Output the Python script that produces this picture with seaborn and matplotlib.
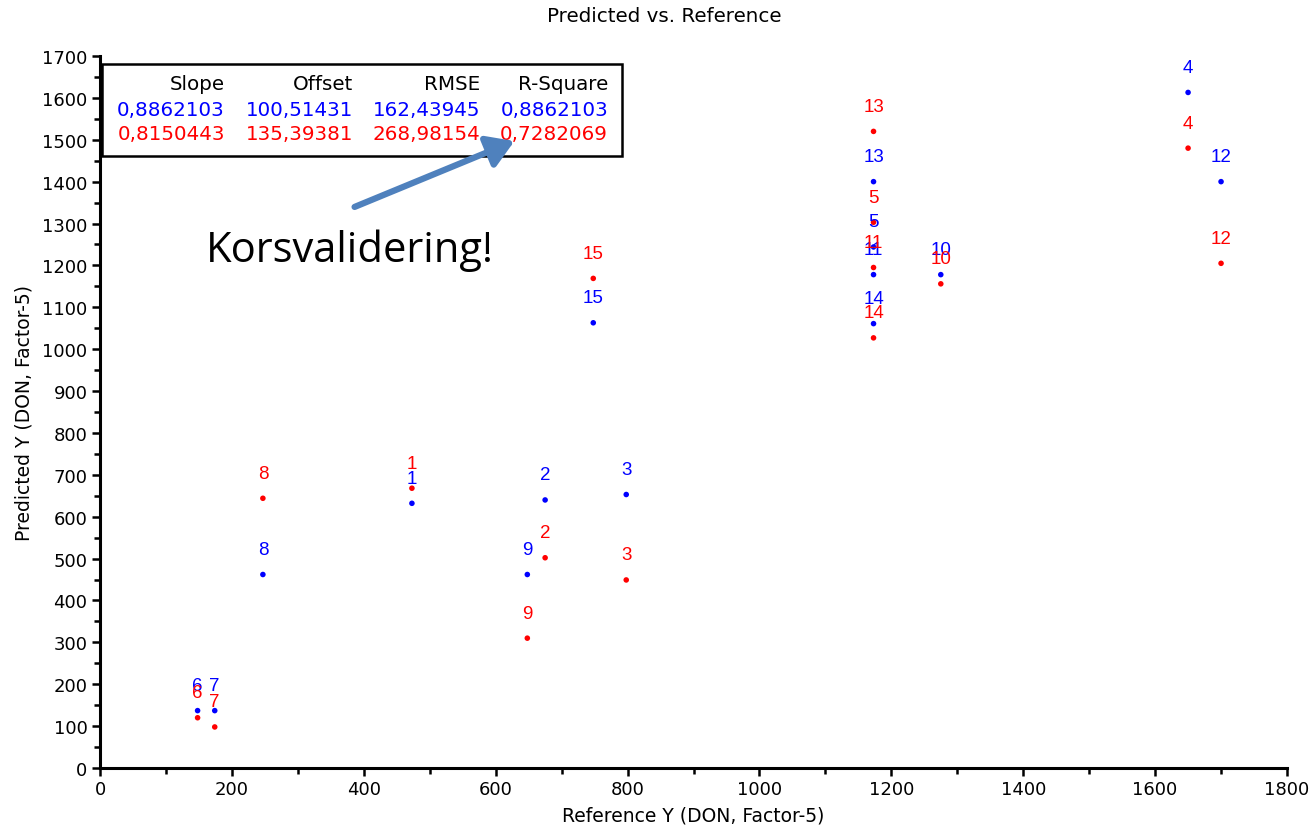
import matplotlib
matplotlib.use("Agg")
import matplotlib.pyplot as plt
import seaborn as sns
import pandas as pd
from matplotlib.ticker import MultipleLocator

sns.set_theme(style="white")
plt.rcParams["font.family"] = ["DejaVu Sans"]

# Sample numbers and reference values
samples = [1, 2, 3, 4, 5, 6, 7, 8, 9, 10, 11, 12, 13, 14, 15]
reference = [473, 675, 798, 1650, 1173, 148, 174, 247, 648, 1275, 1173, 1700, 1173, 1173, 748]
# Predicted values: calibration (blue) and cross-validation (red)
pred_cal = [632, 640, 653, 1613, 1244, 137, 137, 462, 462, 1178, 1178, 1400, 1400, 1061, 1063]
pred_val = [668, 502, 449, 1480, 1303, 120, 98, 644, 310, 1156, 1195, 1205, 1520, 1027, 1169]

# Statistics table
stat_headers = ["Slope", "Offset", "RMSE", "R-Square"]
stats_cal = ["0,8862103", "100,51431", "162,43945", "0,8862103"]
stats_val = ["0,8150443", "135,39381", "268,98154", "0,7282069"]

series_colors = {"Calibration": "#0000FF", "Validation": "#FF0000"}

df = pd.concat([
    pd.DataFrame({"sample": samples, "ref": reference, "pred": pred_cal, "set": "Calibration"}),
    pd.DataFrame({"sample": samples, "ref": reference, "pred": pred_val, "set": "Validation"}),
], ignore_index=True)

fig = plt.figure(figsize=(13.14, 8.29), dpi=100)
ax = fig.add_axes([100 / 1314, 60 / 829, 1187 / 1314, 712 / 829])

sns.scatterplot(data=df, x="ref", y="pred", hue="set", palette=series_colors,
                s=16, edgecolor="none", legend=False, ax=ax, zorder=3)

for _, row in df.iterrows():
    ax.annotate(str(row["sample"]), (row["ref"], row["pred"]), xytext=(0, 18),
                textcoords="offset points", ha="center", va="center",
                fontsize=13.5, color=series_colors[row["set"]], zorder=4,
                family=["Liberation Sans", "DejaVu Sans"])

ax.set_xlim(0, 1800)
ax.set_ylim(0, 1700)
ax.xaxis.set_major_locator(MultipleLocator(200))
ax.xaxis.set_minor_locator(MultipleLocator(100))
ax.yaxis.set_major_locator(MultipleLocator(100))
ax.yaxis.set_minor_locator(MultipleLocator(50))
ax.tick_params(which="major", direction="out", length=6, width=1.8, labelsize=13,
               color="black", labelcolor="black", pad=3)
ax.tick_params(which="minor", direction="out", length=4.5, width=1.8, color="black")
ax.tick_params(axis="x", which="both", bottom=True)
ax.tick_params(axis="y", which="both", left=True)
for side in ["top", "right"]:
    ax.spines[side].set_visible(False)
for side in ["left", "bottom"]:
    ax.spines[side].set_color("black")
    ax.spines[side].set_linewidth(2.2)

ax.set_xlabel("Reference Y (DON, Factor-5)", fontsize=13.5, color="black", labelpad=5)
ax.set_ylabel("Predicted Y (DON, Factor-5)", fontsize=13.5, color="black", labelpad=6)
fig.text(664 / 1314, 1 - 16 / 829, "Predicted vs. Reference", ha="center", va="center",
         fontsize=14.3, color="black")

# Statistics box
box = plt.Rectangle((102 / 1314, 1 - 157 / 829), 520 / 1314, 92 / 829,
                    transform=fig.transFigure, facecolor="white", edgecolor="black",
                    linewidth=1.8, zorder=5)
fig.patches.append(box)
col_right = [225, 353, 480, 608]
rows = [(85, stat_headers, "black"), (111, stats_cal, "#0000FF"), (135, stats_val, "#FF0000")]
for ypx, vals, col in rows:
    for xpx, v in zip(col_right, vals):
        fig.text(xpx / 1314, 1 - ypx / 829, v, ha="right", va="center",
                 fontsize=14.3, color=col, zorder=6)

# Annotation arrow and note
fig.patches.append(matplotlib.patches.FancyArrowPatch(
    (352 / 1314, 1 - 209 / 829), (517 / 1314, 1 - 141 / 829),
    transform=fig.transFigure, arrowstyle="-|>,head_length=8,head_width=5",
    color="#4F81BD", linewidth=4.5, mutation_scale=2, zorder=7))
fig.text(206 / 1314, 1 - 251 / 829, "Korsvalidering!", ha="left", va="center",
         fontsize=30, color="black", family=["Open Sans", "DejaVu Sans"])

fig.savefig("out.png", dpi=100)
